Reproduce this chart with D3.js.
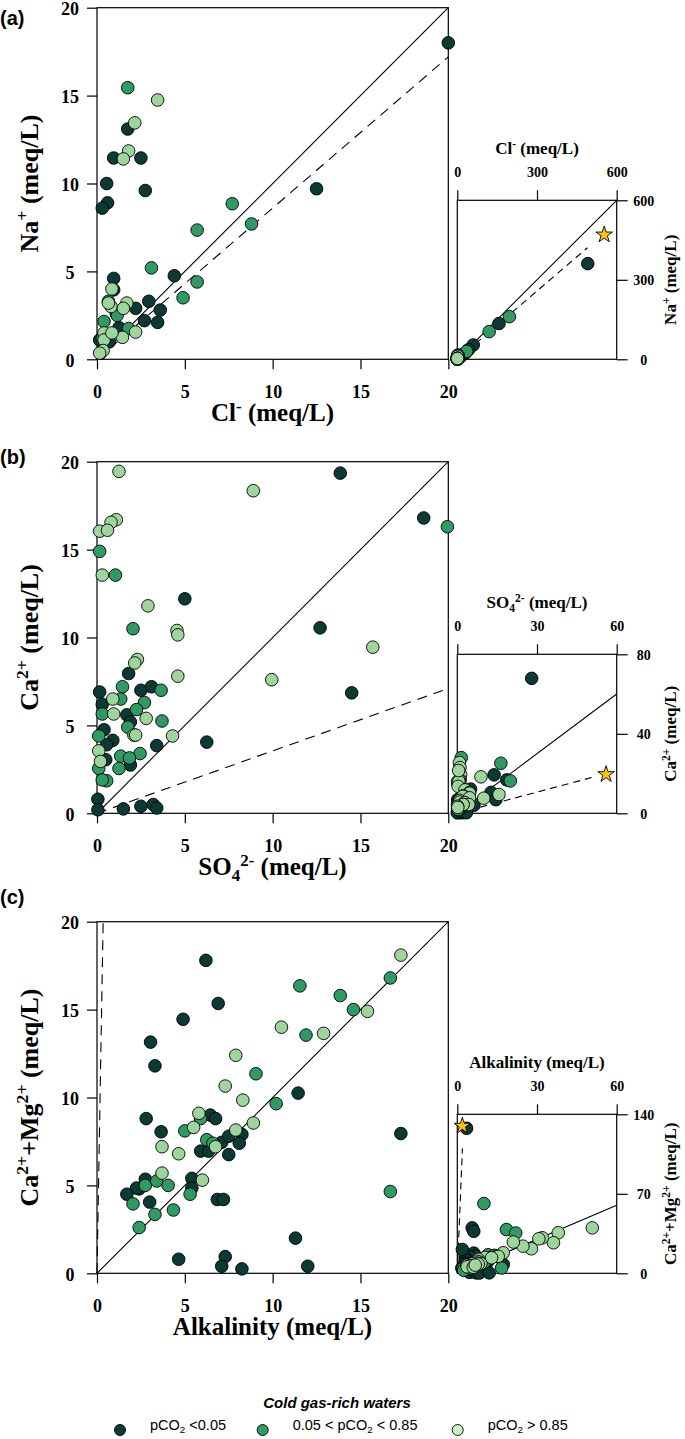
<!DOCTYPE html>
<html>
<head>
<meta charset="utf-8">
<script src="https://cdn.jsdelivr.net/npm/d3@7"></script>
<style>
  body { margin: 0; background: #fff; }
  svg text { font-family: "Liberation Serif", "Times New Roman", serif; font-weight: bold; }
  svg text.sans { font-family: "Liberation Sans", Arial, sans-serif; }
</style>
</head>
<body>
<svg id="chart" width="685" height="1439"></svg>
<script>
'use strict';

// ---- data (meq/L) ----

var mainTicks  = [0, 5, 10, 15, 20]
  , clTicks    = [0, 300, 600]
  , naTicks    = [0, 300, 600]
  , so4Ticks   = [0, 30, 60]
  , caTicks    = [0, 40, 80]
  , alkTicks   = [0, 30, 60]
  , camgTicks  = [0, 70, 140];

// (a) Cl- vs Na+
var naClDark = [
  [20, 18], [12.5, 9.7], [0.55, 10.0], [0.6, 8.9], [0.3, 8.6], [0.95, 11.45], [2.5, 11.45],
  [1.75, 13.1], [2.75, 9.6], [4.4, 4.75], [0.95, 4.6], [0.95, 3.95], [2.95, 3.3], [3.6, 2.8],
  [2.2, 2.9], [2.7, 2.2], [3.45, 2.1], [1.25, 1.8], [1.1, 2.6], [0.15, 1.1], [0.2, 0.35], [0.7, 1.0],
  [491, 361], [157, 135], [60, 54], [42, 36], [28, 22]
];
var naClMid = [
  [1.75, 15.45], [7.7, 8.85], [8.8, 7.7], [5.7, 7.35], [3.1, 5.2], [5.7, 4.4], [4.9, 3.5],
  [0.4, 2.15], [1.15, 2.5], [1.8, 1.75], [0.65, 3.3], [0.3, 1.2],
  [196, 161], [120, 104.5], [35, 30]
];
var naClLight = [
  [3.45, 14.75], [2.15, 13.45], [1.8, 11.85], [1.5, 11.4], [0.85, 4.0], [0.8, 3.0], [1.7, 3.2],
  [1.5, 2.9], [2.2, 1.55], [1.45, 1.25], [0.4, 1.5], [0.4, 1.1], [0.85, 1.5], [0.35, 0.5],
  [0.15, 0.35], [0.65, 3.2]
];

// (b) SO4 2- vs Ca2+
var caSo4Dark = [
  [13.85, 19.35], [18.6, 16.8], [12.7, 10.55], [14.5, 6.85], [5.0, 12.2], [6.25, 4.05], [3.4, 3.85],
  [1.8, 7.95], [2.5, 7.0], [3.1, 7.2], [0.15, 6.9], [0.3, 6.2], [1.7, 5.6], [1.9, 5.2], [0.4, 4.75],
  [0.9, 4.15], [0.55, 3.9], [0.5, 3.05], [1.9, 2.75], [0.05, 0.8], [0.05, 0.2], [1.5, 0.25],
  [2.5, 0.4], [3.2, 0.5], [3.4, 0.3],
  [28, 67.9]
];
var caSo4Mid = [
  [19.95, 16.3], [0.15, 14.9], [1.05, 13.55], [2.05, 10.5], [1.45, 7.2], [3.65, 7.0], [1.35, 6.5],
  [2.7, 6.3], [2.25, 5.9], [0.3, 5.65], [3.7, 5.25], [1.75, 4.9], [0.1, 4.4], [2.45, 3.4],
  [1.35, 3.25], [1.85, 3.15], [1.25, 2.55], [0.1, 2.55], [0.55, 1.85], [0.3, 1.9],
  [16.4, 25.2], [1.5, 28]
];
var caSo4Light = [
  [1.25, 19.45], [8.9, 18.35], [0.15, 16.05], [1.1, 16.7], [0.8, 16.55], [0.6, 16.1], [0.3, 13.55],
  [2.9, 11.8], [4.55, 10.4], [4.6, 10.15], [2.3, 8.75], [2.15, 8.55], [4.6, 7.8], [9.95, 7.6],
  [15.7, 9.45], [0.9, 6.5], [0.95, 5.65], [2.8, 5.4], [4.3, 4.4], [2.1, 4.45], [2.2, 4.45],
  [0.1, 3.55], [0.2, 2.95],
  [0.8, 25.5], [1, 23], [0.5, 21.5]
];

// (c) alkalinity vs Ca2+ + Mg2+
var camgAlkDark = [
  [6.2, 17.8], [6.9, 15.35], [4.9, 14.45], [3.05, 13.15], [3.3, 11.8], [11.45, 10.25], [2.8, 8.8],
  [3.65, 8.05], [17.3, 7.95], [6.45, 9.0], [6.75, 8.8], [5.9, 6.95], [6.35, 6.95], [7.1, 7.45],
  [7.5, 7.8], [8.25, 7.9], [8.1, 7.4], [7.5, 6.75], [5.4, 5.4], [5.4, 4.85], [2.75, 5.35],
  [2.4, 4.8], [2.25, 4.85], [1.7, 4.5], [3.0, 4.05], [6.85, 4.2], [7.2, 4.2], [11.3, 2.0],
  [4.65, 0.8], [7.3, 0.95], [7.1, 0.4], [8.25, 0.25], [12.0, 0.4],
  [3.5, 127.7], [5.6, 40], [6.2, 37], [1.9, 21]
];
var camgAlkMid = [
  [11.55, 16.35], [16.7, 16.8], [13.85, 15.8], [14.6, 15.0], [11.9, 13.55], [9.05, 11.35],
  [10.2, 9.65], [5.9, 8.8], [5.0, 8.1], [6.25, 7.6], [6.6, 7.4], [16.7, 4.65], [2.75, 5.0],
  [3.4, 5.25], [4.05, 5.0], [2.05, 3.95], [3.3, 3.35], [4.35, 3.6], [2.4, 2.6], [5.3, 4.5],
  [10, 61.4], [18.5, 38.5], [22, 35.5]
];
var camgAlkLight = [
  [17.3, 18.1], [15.4, 14.9], [10.5, 14.0], [12.9, 13.65], [7.9, 12.4], [7.3, 10.65], [8.3, 9.85],
  [8.9, 8.55], [5.8, 9.1], [5.5, 8.3], [7.9, 8.15], [3.7, 7.2], [4.65, 6.8], [3.7, 5.7],
  [6.0, 5.3], [6.75, 7.2],
  [50.8, 40], [38, 35.7], [36.2, 26.9], [32, 31.3], [30.7, 30.4], [27.9, 21.6], [24.7, 23.9], [21.1, 27.5]
];

// seawater composition (star) and reference lines
var seawaterA = [553, 470]
  , seawaterB = [56, 19.6]
  , seawaterC = [1.9, 129.7];

var oneToOne     = [[0, 0], [20, 20]]
  , dashedMainA  = [[0, 0], [20, 17.2]]
  , dashedMainB  = [[0, 0], [20, 7.1]]
  , dashedMainC  = [[0, 0], [0.35, 20]]
  , solidInsetA  = [[0, 0], [600, 600]]
  , dashedInsetA = [[0, 0], [490, 421]]
  , solidInsetB  = [[0, 0], [60, 60]]
  , dashedInsetB = [[0, 0], [52, 18.5]]
  , solidInsetC  = [[0, 0], [60, 60]]
  , dashedInsetC = [[0, 0], [1.93, 110]];

var legendLabels = [
  [['pCO'], ['2', 'sub'], [' <0.05']],
  [['0.05 < pCO'], ['2', 'sub'], [' < 0.85']],
  [['pCO'], ['2', 'sub'], [' > 0.85']]
];

// ---- styles ----

var colDark  = '#0b3a35'
  , colMid   = '#2f9a63'
  , colLight = '#9dd59c'
  , legendColors = [colDark, colMid, '#c9f6c9'];

var svg = d3.select('#chart');

var panels = [
  { tag: '(a)', tagY: 18, bottom: 359.3,
    series: [naClDark, naClMid, naClLight],
    lines: [oneToOne, dashedMainA],
    xTitle: [['Cl'], ['-', 'sup'], [' (meq/L)']],
    yTitle: [['Na'], ['+', 'sup'], [' (meq/L)']],
    inset: { xMax: 600, yMax: 600, xTicks: clTicks, yTicks: naTicks,
             lines: [solidInsetA, dashedInsetA], star: seawaterA,
             xTitle: [['Cl'], ['-', 'sup'], [' (meq/L)']],
             yTitle: [['Na'], ['+', 'sup'], [' (meq/L)']] } },
  { tag: '(b)', tagY: 457, bottom: 813.3,
    series: [caSo4Dark, caSo4Mid, caSo4Light],
    lines: [oneToOne, dashedMainB],
    xTitle: [['SO'], ['4', 'sub'], ['2-', 'sup'], [' (meq/L)']],
    yTitle: [['Ca'], ['2+', 'sup'], [' (meq/L)']],
    inset: { xMax: 60, yMax: 80, xTicks: so4Ticks, yTicks: caTicks,
             lines: [solidInsetB, dashedInsetB], star: seawaterB,
             xTitle: [['SO'], ['4', 'sub'], ['2-', 'sup'], [' (meq/L)']],
             yTitle: [['Ca'], ['2+', 'sup'], [' (meq/L)']] } },
  { tag: '(c)', tagY: 897, bottom: 1273.3,
    series: [camgAlkDark, camgAlkMid, camgAlkLight],
    lines: [oneToOne, dashedMainC],
    xTitle: [['Alkalinity (meq/L)']],
    yTitle: [['Ca'], ['2+', 'sup'], ['+Mg'], ['2+', 'sup'], [' (meq/L)']],
    inset: { xMax: 60, yMax: 140, xTicks: alkTicks, yTicks: camgTicks,
             lines: [solidInsetC, dashedInsetC], star: seawaterC,
             xTitle: [['Alkalinity (meq/L)']],
             yTitle: [['Ca'], ['2+', 'sup'], ['+Mg'], ['2+', 'sup'], [' (meq/L)']] } }
];

var seriesColors = [colDark, colMid, colLight];

panels.forEach(function(p){
  drawMain(svg.append('g'), p);
  drawInset(svg.append('g'), p);
  svg.append('text').attr('class', 'sans')
     .attr('x', 0).attr('y', p.tagY).attr('dy', '0.35em')
     .attr('font-size', 20).text(p.tag);
});

drawLegend(svg.append('g'));

// ---- pieces ----

// writes [text, 'sup'|'sub'] parts into a text element with shifted tspans
function rich(text, parts, size){
  var shift = 0;
  parts.forEach(function(part){
    var target = part[1] == 'sup' ? -size * 0.38 : part[1] == 'sub' ? size * 0.22 : 0
      , t = text.append('tspan').text(part[0]).attr('dy', target - shift);
    if (part[1]) t.attr('font-size', size * 0.68);
    shift = target;
  });
  return text;
}

function styleAxis(g, size){
  g.attr('font-family', null).attr('font-size', size);
  g.select('.domain').remove();
  g.selectAll('.tick line').attr('stroke-width', 1.2);
}

function drawPoints(g, series, x, y, keep){
  series.forEach(function(pts, i){
    g.append('g').selectAll('circle')
      .data(pts.filter(keep))
      .join('circle')
        .attr('cx', function(d){ return x(d[0]); })
        .attr('cy', function(d){ return y(d[1]); })
        .attr('r', 6.3)
        .attr('fill', seriesColors[i])
        .attr('stroke', '#000')
        .attr('stroke-width', 0.9);
  });
}

function drawLines(g, lines, x, y, dash){
  var line = d3.line().x(function(d){ return x(d[0]); }).y(function(d){ return y(d[1]); });
  lines.forEach(function(l, i){
    g.append('path').attr('d', line(l))
     .attr('fill', 'none').attr('stroke', '#000').attr('stroke-width', 1.1)
     .attr('stroke-dasharray', i == 1 ? dash : null);
  });
}

function drawMain(g, p){
  var x = d3.scaleLinear().domain([0, 20]).range([97, 448.3])
    , y = d3.scaleLinear().domain([0, 20]).range([p.bottom, p.bottom - 351.6]);

  g.append('rect')
   .attr('x', x(0)).attr('y', y(20))
   .attr('width', x(20) - x(0)).attr('height', y(0) - y(20))
   .attr('fill', 'none').attr('stroke', '#000').attr('stroke-width', 1.2);

  var ax = g.append('g').attr('transform', 'translate(' + x(0) + ',0)')
    .call(d3.axisLeft(y).tickValues(mainTicks).tickSize(10).tickSizeOuter(0));
  styleAxis(ax, 18);
  ax.selectAll('.tick text').attr('x', -27).attr('text-anchor', 'middle').attr('dy', '0.4em');

  var bx = g.append('g').attr('transform', 'translate(0,' + y(0) + ')')
    .call(d3.axisBottom(x).tickValues(mainTicks).tickSize(10).tickSizeOuter(0));
  styleAxis(bx, 18);
  bx.selectAll('.tick text').attr('y', 32.5).attr('dy', '0.35em');

  drawLines(g, p.lines, x, y, '10,7');
  drawPoints(g, p.series, x, y, function(d){ return d[0] <= 20.2 && d[1] <= 20.2; });

  rich(g.append('text').attr('x', 272.5).attr('y', y(0) + 62).attr('dy', '0.35em')
        .attr('text-anchor', 'middle').attr('font-size', 25), p.xTitle, 25);

  rich(g.append('text')
        .attr('transform', 'translate(38,' + (y(0) + y(20)) / 2 + ') rotate(-90)')
        .attr('text-anchor', 'middle').attr('dy', '0.35em').attr('font-size', 26), p.yTitle, 26);
}

function drawInset(g, p){
  var s = p.inset
    , x = d3.scaleLinear().domain([0, s.xMax]).range([457.3, 616.7])
    , y = d3.scaleLinear().domain([0, s.yMax]).range([p.bottom, p.bottom - 159]);

  g.append('rect')
   .attr('x', x(0)).attr('y', y(s.yMax))
   .attr('width', x(s.xMax) - x(0)).attr('height', y(0) - y(s.yMax))
   .attr('fill', 'none').attr('stroke', '#000').attr('stroke-width', 1.2);

  var tx = g.append('g').attr('transform', 'translate(0,' + y(s.yMax) + ')')
    .call(d3.axisTop(x).tickValues(s.xTicks).tickSize(10).tickSizeOuter(0));
  styleAxis(tx, 14);
  tx.selectAll('.tick text').attr('y', -28).attr('dy', '0.35em');

  var ry = g.append('g').attr('transform', 'translate(' + x(s.xMax) + ',0)')
    .call(d3.axisRight(y).tickValues(s.yTicks).tickSize(11).tickSizeOuter(0));
  styleAxis(ry, 14);
  ry.selectAll('.tick text').attr('x', 27).attr('text-anchor', 'middle').attr('dy', '0.35em');

  drawLines(g, s.lines, x, y, '7,5');
  drawPoints(g, p.series, x, y, function(){ return true; });

  g.append('path')
   .attr('d', d3.symbol(d3.symbolStar, 85)())
   .attr('transform', 'translate(' + x(s.star[0]) + ',' + y(s.star[1]) + ')')
   .attr('fill', '#ffc20e').attr('stroke', '#000').attr('stroke-width', 0.9);

  rich(g.append('text').attr('x', (x(0) + x(s.xMax)) / 2).attr('y', y(s.yMax) - 46)
        .attr('dy', '0.35em').attr('text-anchor', 'middle').attr('font-size', 17), s.xTitle, 17);

  rich(g.append('text')
        .attr('transform', 'translate(676,' + (y(0) + y(s.yMax)) / 2 + ') rotate(-90)')
        .attr('text-anchor', 'middle').attr('dy', '0.35em').attr('font-size', 17), s.yTitle, 17);
}

function drawLegend(g){
  var cx = [120, 262.7, 457.7];

  g.append('text').attr('class', 'sans')
   .attr('x', 337).attr('y', 1403).attr('dy', '0.35em')
   .attr('text-anchor', 'middle').attr('font-size', 15).attr('font-style', 'italic')
   .text('Cold gas-rich waters');

  legendLabels.forEach(function(lab, i){
    g.append('circle').attr('cx', cx[i]).attr('cy', 1430).attr('r', 5.5)
     .attr('fill', legendColors[i]).attr('stroke', '#000').attr('stroke-width', 0.9);
    rich(g.append('text').attr('class', 'sans')
          .attr('x', cx[i] + 30).attr('y', 1430).attr('dy', '0.35em')
          .attr('font-size', 14.5)
          .style('font-weight', 'normal'), lab, 14.5);
  });
}
</script>
</body>
</html>
